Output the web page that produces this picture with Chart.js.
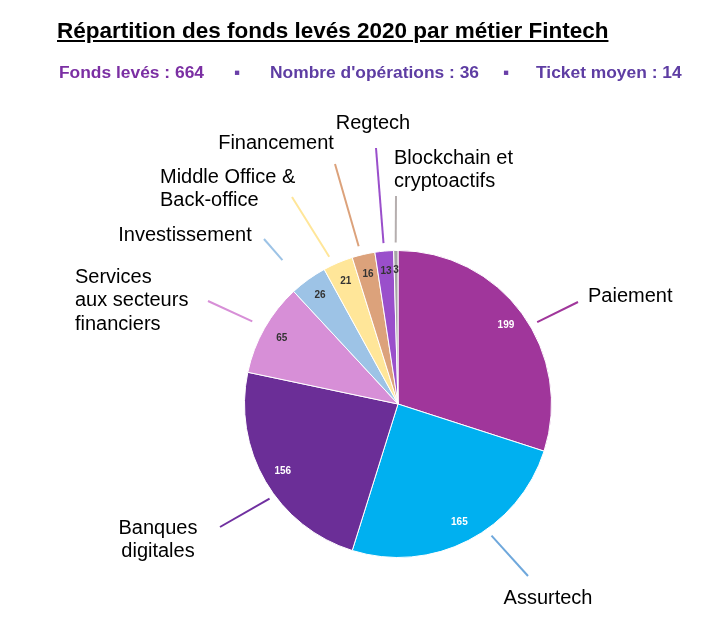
<!DOCTYPE html>
<html>
<head>
<meta charset="utf-8">
<script src="https://cdn.jsdelivr.net/npm/chart.js@4"></script>
<style>
  body{margin:0;background:#fff;font-family:"Liberation Sans",Arial,sans-serif;}
  #wrap{position:relative;width:711px;height:628px;}
  #title{position:absolute;left:57px;top:18px;font-size:22.5px;font-weight:bold;text-decoration:underline;color:#000;white-space:nowrap;}
  .sub{position:absolute;top:62px;font-size:17.4px;font-weight:bold;white-space:nowrap;}
  canvas{position:absolute;left:0;top:0;}
</style>
</head>
<body>
<div id="wrap">
  <canvas id="pie" width="711" height="628"></canvas>
  <div id="title">Répartition des fonds levés 2020 par métier Fintech</div>
  <div class="sub" style="left:59px;color:#7b2fa3">Fonds levés : 664</div>
  <div class="sub" style="left:234px;color:#6a3fa8">▪</div>
  <div class="sub" style="left:270px;color:#5e3da3">Nombre d'opérations : 36</div>
  <div class="sub" style="left:503px;color:#6a3fa8">▪</div>
  <div class="sub" style="left:536px;color:#5e3da3">Ticket moyen : 14</div>
</div>
<script>
'use strict';
// data
var categories = ['Paiement','Assurtech','Banques digitales','Services aux secteurs financiers','Investissement','Middle Office & Back-office','Financement','Regtech','Blockchain et cryptoactifs'];
var fonds = [199,165,156,65,26,21,16,13,3];
var sliceColors = ['#a0369b','#00b0f0','#6b2e97','#d78fd7','#9dc3e6','#ffe699','#dca27b','#9a4fcb','#a6a6a6'];
var lineColors = ['#a0369b','#6fa8dc','#7030a0','#d78fd7','#9dc3e6','#ffe699','#dca27b','#9a4fcb','#b5aeae'];
var valueColors = ['#fff','#fff','#fff','#333','#333','#333','#333','#333','#333'];

// external label layout, relative to pie centre (lines = text lines)
var labelLayout = [
  {lines:['Paiement'], x:190, y:-108, align:'left', tweak:5.6, extra:8, end:[180,-102]},
  {lines:['Assurtech'], x:150, y:194, align:'center', tweak:-8, extra:8, end:[130,172]},
  {lines:['Banques','digitales'], x:-240, y:124, align:'center', tweak:-6, extra:6, end:[-178,123]},
  {lines:['Services','aux secteurs','financiers'], x:-323, y:-127, align:'left', tweak:0, extra:14, end:[-190,-103]},
  {lines:['Investissement'], x:-213, y:-169, align:'center', tweak:-3, extra:31, end:[-134,-165]},
  {lines:['Middle Office &','Back-office'], x:-238, y:-227, align:'left', tweak:-2, extra:9, end:[-106,-207]},
  {lines:['Financement'], x:-122, y:-261, align:'center', tweak:-1, extra:9, end:[-63,-240]},
  {lines:['Regtech'], x:-25, y:-281, align:'center', tweak:0, extra:8, end:[-22,-256]},
  {lines:['Blockchain et','cryptoactifs'], x:-4, y:-246, align:'left', tweak:0, extra:8, end:[-2,-208]}
];

var labelPlugin = {
  id:'pieLabels',
  afterDatasetsDraw:function(chart){
    var ctx = chart.ctx;
    var arcs = chart.getDatasetMeta(0).data;
    ctx.save();
    for (var i=0;i<arcs.length;i++){
      var a = arcs[i];
      var cx=a.x, cy=a.y, r=a.outerRadius;
      var mid=(a.startAngle+a.endAngle)/2;
      // value inside slice
      ctx.fillStyle=valueColors[i];
      ctx.font='bold 10px "Liberation Sans", Arial';
      ctx.textAlign='center';ctx.textBaseline='middle';
      var vr=r-20;
      ctx.fillText(String(fonds[i]), cx+Math.cos(mid)*vr, cy+Math.sin(mid)*vr);
      // leader line
      var L=labelLayout[i];
      var ang=mid+L.tweak*Math.PI/180;
      var rr=r+L.extra;
      ctx.strokeStyle=lineColors[i];ctx.lineWidth=2;
      ctx.beginPath();
      ctx.moveTo(cx+Math.cos(ang)*rr, cy+Math.sin(ang)*rr);
      ctx.lineTo(cx+L.end[0], cy+L.end[1]);
      ctx.stroke();
      // category label
      ctx.fillStyle='#000';
      ctx.font='20px "Liberation Sans", Arial';
      ctx.textAlign=L.align;
      for (var k=0;k<L.lines.length;k++){
        ctx.fillText(L.lines[k], cx+L.x, cy+L.y+k*23.5);
      }
    }
    ctx.restore();
  }
};

var chart = new Chart(document.getElementById('pie').getContext('2d'), {
  type:'pie',
  data:{
    labels:categories,
    datasets:[{data:fonds, backgroundColor:sliceColors, borderColor:'#fff', borderWidth:1}]
  },
  options:{
    responsive:false,
    animation:false,
    layout:{padding:{top:250,bottom:70,left:244,right:159}},
    plugins:{legend:{display:false},tooltip:{enabled:false},title:{display:false}}
  },
  plugins:[labelPlugin]
});
</script>
</body>
</html>
